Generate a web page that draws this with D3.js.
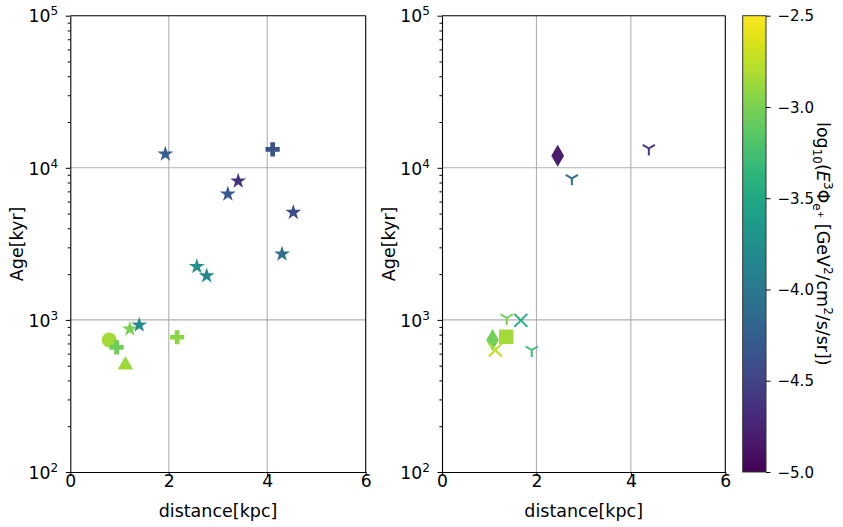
<!DOCTYPE html>
<html>
<head>
<meta charset="utf-8">
<script src="https://cdn.jsdelivr.net/npm/d3@7"></script>
<style>
  body { margin: 0; background: #fff; }
  svg { font-family: "DejaVu Sans", sans-serif; }
</style>
</head>
<body>
<div id="chart"></div>
<script>
// left panel
const leftDist = [1.93, 4.11, 3.41, 3.20, 4.53, 4.30, 2.57, 2.77, 0.79, 0.94, 2.17, 1.12, 1.21, 1.40];
const leftAge = [12300, 13200, 8190, 6730, 5090, 2710, 2240, 1950, 738, 660, 769, 505, 871, 925];
const leftFlux = [-4.25, -4.37, -4.62, -4.32, -4.45, -4.1, -3.75, -3.82, -2.85, -3.05, -2.93, -2.87, -3.0, -3.8];
const leftMarker = ["star", "plus", "star", "star", "star", "star", "star", "star", "circle", "plus", "plus", "triangle", "star", "star"];

// right panel
const rightDist = [2.45, 4.38, 2.75, 1.37, 1.67, 1.07, 1.36, 1.13, 1.90];
const rightAge = [12000, 13400, 8530, 1030, 993, 738, 774, 634, 634];
const rightFlux = [-4.8, -4.57, -4.1, -3.0, -3.45, -3.03, -2.85, -2.75, -3.3];
const rightMarker = ["diamond", "tri", "tri", "tri", "x", "diamond", "square", "x", "tri"];

const xTicks = [0, 2, 4, 6];
const yTicks = [1e2, 1e3, 1e4, 1e5];
const cbTicks = [-5.0, -4.5, -4.0, -3.5, -3.0, -2.5];

const W = 843, H = 527;
const svg = d3.select("#chart").append("svg")
    .attr("width", W)
    .attr("height", H);

const yTop = 15.7, yBottom = 472;
const y = d3.scaleLog().domain([1e2, 1e5]).range([yBottom, yTop]);
const color = d3.scaleSequential(d3.interpolateViridis).domain([-5, -2.5]);
const fs = 17.2;     // tick labels
const fsLab = 17.5;  // axis labels

const minorTicks = [];
[100, 1000, 10000].forEach(function (b) {
    for (let k = 2; k <= 9; k++) minorTicks.push(b * k);
});

function symbolPath(type) {
    if (type === "star") return d3.symbol(d3.symbolStar, 78)();
    if (type === "plus") return d3.symbol(d3.symbolCross, 112)();
    if (type === "circle") return d3.symbol(d3.symbolCircle, 177)();
    if (type === "triangle") return d3.symbol(d3.symbolTriangle, 104)();
    if (type === "square") return d3.symbol(d3.symbolSquare, 210)();
    if (type === "diamond") return d3.symbol(d3.symbolDiamond, 140)();
    if (type === "x") return "M-6.5,-6.5L6.5,6.5M-6.5,6.5L6.5,-6.5";
    if (type === "tri") return "M0,0L0,7M0,0L-6.1,-3.5M0,0L6.1,-3.5";
}

function drawPanel(x0, x1, dist, age, flux, marker) {
    const x = d3.scaleLinear().domain([0, 6]).range([x0, x1]);
    const g = svg.append("g");

    // grid
    g.selectAll(".gx").data(xTicks.slice(1, 3)).enter().append("line")
        .attr("x1", d => x(d)).attr("x2", d => x(d))
        .attr("y1", yTop).attr("y2", yBottom)
        .attr("stroke", "#b0b0b0").attr("stroke-width", 1.1);
    g.selectAll(".gy").data(yTicks.slice(1, 3)).enter().append("line")
        .attr("x1", x0).attr("x2", x1)
        .attr("y1", d => y(d)).attr("y2", d => y(d))
        .attr("stroke", "#b0b0b0").attr("stroke-width", 1.1);

    // points
    g.selectAll(".pt").data(dist).enter().append("path")
        .attr("transform", (d, i) => "translate(" + x(d) + "," + y(age[i]) + ")")
        .attr("d", (d, i) => symbolPath(marker[i]))
        .attr("fill", (d, i) => (marker[i] === "x" || marker[i] === "tri") ? "none" : color(flux[i]))
        .attr("stroke", (d, i) => (marker[i] === "x" || marker[i] === "tri") ? color(flux[i]) : "none")
        .attr("stroke-width", 2);

    // axes
    const xa = g.append("g")
        .attr("transform", "translate(0," + yBottom + ")")
        .call(d3.axisBottom(x).tickValues(xTicks).tickSize(4).tickSizeOuter(0).tickFormat(d3.format("d")));
    xa.selectAll("text").attr("y", 15).attr("dy", 0)
        .attr("font-size", fs).attr("font-family", "DejaVu Sans").attr("fill", "#000");

    g.append("g")
        .attr("transform", "translate(" + x0 + ",0)")
        .call(d3.axisLeft(y).tickValues(yTicks).tickSize(4.5).tickSizeOuter(0).tickFormat(""));
    g.append("g")
        .attr("transform", "translate(" + x0 + ",0)")
        .call(d3.axisLeft(y).tickValues(minorTicks).tickSize(2.6).tickSizeOuter(0).tickFormat(""))
        .select(".domain").remove();

    g.selectAll(".ylab").data(yTicks).enter().append("text")
        .attr("x", x0 - 12.2)
        .attr("y", d => y(d) + 6.7)
        .attr("text-anchor", "end")
        .attr("font-size", fs)
        .each(function (d) {
            const t = d3.select(this);
            t.append("tspan").text("10");
            t.append("tspan").attr("font-size", 12).attr("dy", -7).text(Math.round(Math.log10(d)));
        });

    // frame top/right
    g.append("line").attr("x1", x0).attr("x2", x1).attr("y1", yTop).attr("y2", yTop)
        .attr("stroke", "#000").attr("stroke-width", 1.1);
    g.append("line").attr("x1", x1).attr("x2", x1).attr("y1", yTop).attr("y2", yBottom)
        .attr("stroke", "#000").attr("stroke-width", 1.1);
    g.selectAll(".domain").attr("stroke-width", 1.1);

    g.append("text")
        .attr("x", (x0 + x1) / 2).attr("y", 517)
        .attr("text-anchor", "middle").attr("font-size", fsLab)
        .text("distance[kpc]");
    g.append("text")
        .attr("transform", "translate(" + (x0 - 53) + "," + ((yTop + yBottom) / 2) + ") rotate(-90)")
        .attr("text-anchor", "middle").attr("dy", "0.35em").attr("font-size", fsLab)
        .text("Age[kyr]");
}

drawPanel(70.3, 365.7, leftDist, leftAge, leftFlux, leftMarker);
drawPanel(442, 725.3, rightDist, rightAge, rightFlux, rightMarker);

// colorbar
const cbX = 742.7, cbW = 23.3;
const cbY = d3.scaleLinear().domain([-5, -2.5]).range([yBottom, yTop]);
const grad = svg.append("defs").append("linearGradient")
    .attr("id", "viridis").attr("x1", 0).attr("y1", 1).attr("x2", 0).attr("y2", 0);
grad.selectAll("stop").data(d3.range(0, 1.0001, 0.02)).enter().append("stop")
    .attr("offset", d => d)
    .attr("stop-color", d => d3.interpolateViridis(d));
svg.append("rect")
    .attr("x", cbX).attr("y", yTop).attr("width", cbW).attr("height", yBottom - yTop)
    .attr("fill", "url(#viridis)").attr("stroke", "#333").attr("stroke-width", 1);

const cba = svg.append("g")
    .attr("transform", "translate(" + (cbX + cbW) + ",0)")
    .call(d3.axisRight(cbY).tickValues(cbTicks).tickSize(4.5).tickSizeOuter(0).tickFormat(d3.format(".1f")));
cba.select(".domain").remove();
cba.selectAll("text").attr("x", 11.5).attr("dy", "0.35em")
    .attr("font-size", 15).attr("font-family", "DejaVu Sans").attr("fill", "#000");

const cbl = svg.append("text")
    .attr("transform", "translate(817," + ((yTop + yBottom) / 2) + ") rotate(90)")
    .attr("text-anchor", "middle").attr("font-size", fsLab);
cbl.append("tspan").text("log");
cbl.append("tspan").attr("font-size", 12).attr("dy", 4).text("10");
cbl.append("tspan").attr("dy", -4).text("(");
cbl.append("tspan").attr("font-style", "italic").text("E");
cbl.append("tspan").attr("font-size", 12).attr("dy", -7).text("3");
cbl.append("tspan").attr("dy", 7).text("Φ");
cbl.append("tspan").attr("font-size", 12).attr("dy", 4).text("e");
cbl.append("tspan").attr("font-size", 9).attr("dy", -5).text("+");
cbl.append("tspan").attr("dy", 1).text(" [GeV");
cbl.append("tspan").attr("font-size", 12).attr("dy", -7).text("2");
cbl.append("tspan").attr("dy", 7).text("/cm");
cbl.append("tspan").attr("font-size", 12).attr("dy", -7).text("2");
cbl.append("tspan").attr("dy", 7).text("/s/sr])");
</script>
</body>
</html>
